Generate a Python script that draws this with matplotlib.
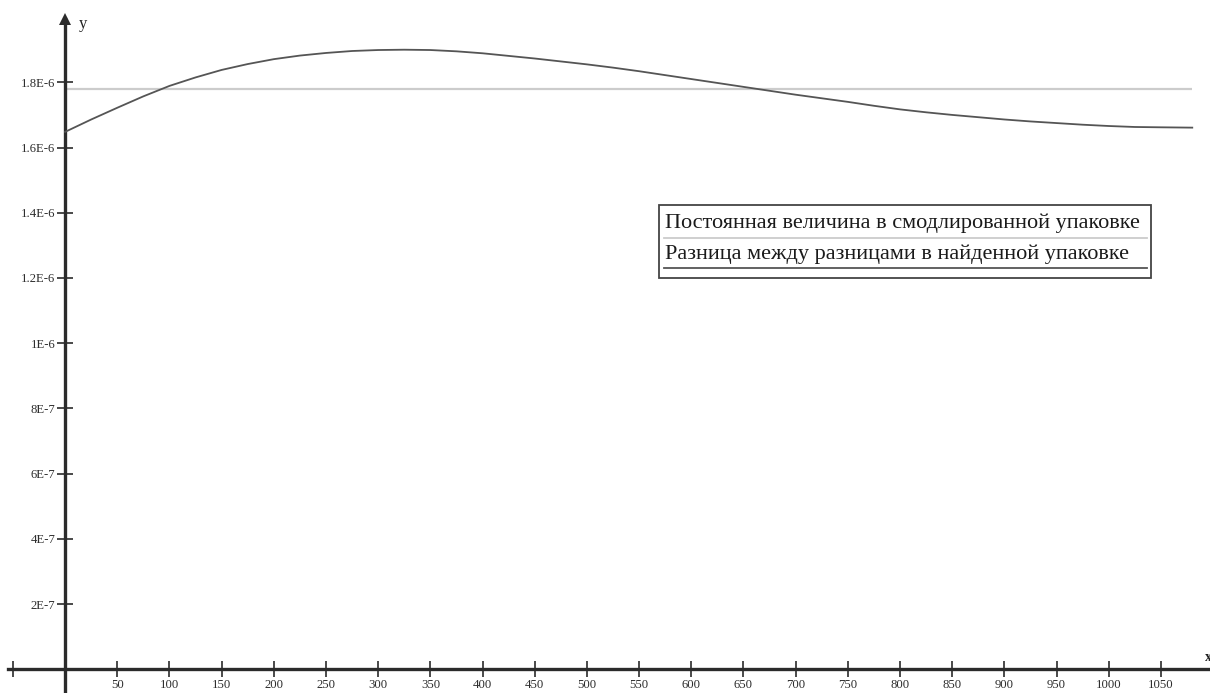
import matplotlib
matplotlib.use("Agg")
import matplotlib.pyplot as plt
from matplotlib.patches import Rectangle
from matplotlib.lines import Line2D

# Simulated difference curve (x in steps, y in units)
x_vals = [0, 25, 50, 75, 100, 125, 150, 175, 200, 225, 250, 275, 300, 325,
          350, 375, 400, 425, 450, 475, 500, 525, 550, 575, 600, 625, 650,
          675, 700, 725, 750, 775, 800, 825, 850, 875, 900, 925, 950, 975,
          1000, 1025, 1050, 1080]
y_vals = [1.648e-6, 1.686e-6, 1.722e-6, 1.757e-6, 1.789e-6, 1.815e-6,
          1.838e-6, 1.856e-6, 1.871e-6, 1.882e-6, 1.890e-6, 1.896e-6,
          1.899e-6, 1.900e-6, 1.899e-6, 1.895e-6, 1.889e-6, 1.881e-6,
          1.873e-6, 1.864e-6, 1.855e-6, 1.845e-6, 1.834e-6, 1.822e-6,
          1.810e-6, 1.798e-6, 1.786e-6, 1.774e-6, 1.762e-6, 1.751e-6,
          1.740e-6, 1.728e-6, 1.717e-6, 1.708e-6, 1.700e-6, 1.693e-6,
          1.686e-6, 1.680e-6, 1.675e-6, 1.670e-6, 1.666e-6, 1.663e-6,
          1.662e-6, 1.661e-6]

# Constant level in the modelled packing
const_value = 1.78e-6
const_x = [0, 1080]

x_ticks = [-50] + list(range(50, 1051, 50))
x_tick_labels = [""] + [str(v) for v in range(50, 1051, 50)]
y_ticks = [2e-7, 4e-7, 6e-7, 8e-7, 1e-6, 1.2e-6, 1.4e-6, 1.6e-6, 1.8e-6]
y_tick_labels = ["2E-7", "4E-7", "6E-7", "8E-7", "1E-6",
                 "1.2E-6", "1.4E-6", "1.6E-6", "1.8E-6"]

legend_labels = ["Постоянная величина в смодлированной упаковке",
                 "Разница между разницами в найденной упаковке"]

SERIF = ["Liberation Serif", "DejaVu Serif"]
AXIS_COLOR = "#2b2b2b"
CURVE_COLOR = "#555555"
CONST_COLOR = "#cccccc"

fig = plt.figure(figsize=(12.1, 6.93), dpi=100)
ax = fig.add_axes([0, 0, 1, 1])

xmin, xmax = -62.4, 1097.0
ymin, ymax = -0.0727e-6, 2.0524e-6
ax.set_xlim(xmin, xmax)
ax.set_ylim(ymin, ymax)

ax.plot(const_x, [const_value, const_value], color=CONST_COLOR, lw=1.6,
        solid_capstyle="butt", zorder=2)
ax.plot(x_vals, y_vals, color=CURVE_COLOR, lw=1.3, zorder=3)

# Axes through the origin
for side in ("top", "right"):
    ax.spines[side].set_visible(False)
ax.spines["left"].set_position(("data", 0))
ax.spines["bottom"].set_position(("data", 0))
for side in ("left", "bottom"):
    ax.spines[side].set_color(AXIS_COLOR)
    ax.spines[side].set_linewidth(2.4)
ax.spines["left"].set_bounds(ymin, 1.995e-6)
ax.spines["bottom"].set_bounds(-55, xmax)

ax.set_xticks(x_ticks)
ax.set_xticklabels(x_tick_labels, family=SERIF, fontsize=9.2, color="#2e2e2e")
ax.set_yticks(y_ticks)
ax.set_yticklabels(y_tick_labels, family=SERIF, fontsize=9.2, color="#2e2e2e")
ax.tick_params(axis="both", direction="inout", length=12, width=1.2,
               color=AXIS_COLOR)
ax.tick_params(axis="x", pad=1)
ax.tick_params(axis="y", pad=1)

# Arrow head on the y axis
ax.plot([0], [1.995e-6], marker="^", markersize=9, color=AXIS_COLOR,
        markeredgewidth=0, clip_on=False, zorder=5)

ax.text(13, 1.98e-6, "y", family=SERIF, fontsize=12, color="#222222",
        ha="left", va="center")
ax.text(1092, 0.035e-6, "x", family=SERIF, fontsize=10, color="#222222",
        ha="left", va="center", fontweight="bold")

# Legend box with underlined entries
box_x0, box_x1 = 0.5446, 0.9512
box_y0, box_y1 = 1 - 277.7 / 693, 1 - 205 / 693
ax.add_patch(Rectangle((box_x0, box_y0), box_x1 - box_x0, box_y1 - box_y0,
                       transform=ax.transAxes, facecolor="white",
                       edgecolor="#444444", lw=1.3, zorder=6))
entry_colors = [CONST_COLOR, CURVE_COLOR]
text_y = [1 - 223 / 693, 1 - 254 / 693]
line_y = [1 - 237.7 / 693, 1 - 268 / 693]
for lab, col, ty, ly in zip(legend_labels, entry_colors, text_y, line_y):
    ax.text(box_x0 + 0.005, ty, lab, transform=ax.transAxes, family=SERIF,
            fontsize=16, color="#1a1a1a", ha="left", va="center", zorder=7)
    ax.add_line(Line2D([box_x0 + 0.004, box_x1 - 0.003], [ly, ly],
                       transform=ax.transAxes, color=col, lw=1.3, zorder=7))

fig.savefig("out.png", dpi=100)
